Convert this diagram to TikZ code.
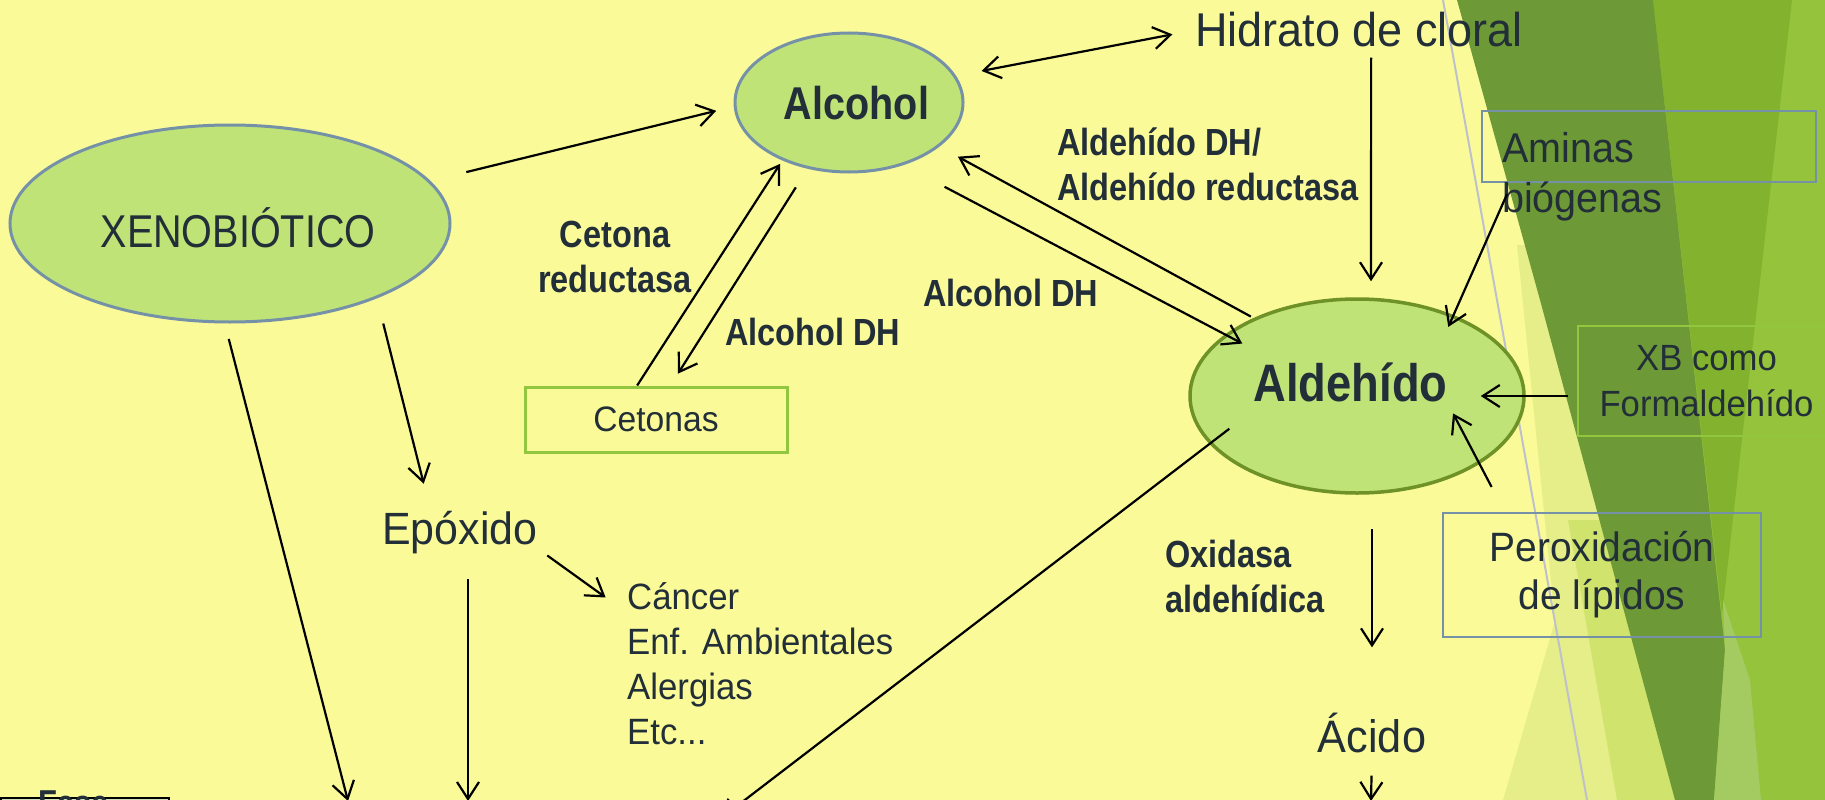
\documentclass[tikz,border=0pt]{standalone}
\usepackage{fontspec}
\setmainfont{Liberation Sans}[FakeStretch=0.95]
\newfontfamily\angosta{Liberation Sans}[FakeStretch=0.86]
\usetikzlibrary{arrows.meta,shapes.geometric}

\definecolor{fondo}{RGB}{250,251,152}
\definecolor{verdeelip}{RGB}{192,227,120}
\definecolor{grisazul}{RGB}{117,145,168}
\definecolor{oliva}{RGB}{110,145,40}
\definecolor{lima}{RGB}{145,198,62}
\definecolor{texto}{RGB}{34,46,56}
\definecolor{vOscuro}{RGB}{109,154,54}
\definecolor{vMedio}{RGB}{131,178,46}
\definecolor{vClaro}{RGB}{149,195,59}
\definecolor{vPalido}{RGB}{230,238,138}
\definecolor{vBanda}{RGB}{208,227,108}
\definecolor{vLuz}{RGB}{164,203,97}
\definecolor{linea}{RGB}{190,192,204}
\definecolor{fasefondo}{RGB}{205,224,184}

\tikzset{
  elipse/.style={ellipse, draw=grisazul, fill=verdeelip, line width=3pt, inner sep=0pt, text=texto},
  etiq/.style={inner sep=0pt, text=texto, align=left, font=\angosta\bfseries\fontsize{37.8}{45}\selectfont},
  rotulo/.style={inner sep=0pt, text=texto},
  caja/.style={draw=grisazul, line width=2.5pt, inner sep=0pt, text=texto, align=center},
  flecha/.style={->, line width=2.2pt}
}

\begin{document}
\begin{tikzpicture}[x=1pt,y=-1pt,>={Straight Barb[length=17pt,width=22pt]}]
\useasboundingbox (0,0) rectangle (1825,800);
\clip (0,0) rectangle (1825,800);
\fill[fondo] (0,0) rectangle (1825,800);

% fondo de la diapositiva
\fill[vClaro] (1640,0) rectangle (1825,800);
\fill[vPalido] (1517,245) -- (1550,245) -- (1700,800) -- (1503,800) -- (1555,621) -- cycle;
\fill[vBanda] (1568,520) -- (1630,520) -- (1700,800) -- (1617,800) -- cycle;
\fill[vMedio] (1653,0) -- (1792,0) -- (1722,615) -- cycle;
\fill[vOscuro] (1457,0) -- (1653,0) -- (1725,650) -- (1714,800) -- (1675,800) -- (1540,300) -- cycle;
\fill[vLuz] (1723,600) -- (1750,680) -- (1761,800) -- (1714,800) -- (1725,650) -- cycle;
\draw[linea, line width=2pt] (1443,0) -- (1587,800);

% nodos
\node[elipse, minimum width=440pt, minimum height=197pt, text height=47pt, text depth=0pt,
  font=\angosta\fontsize{46}{50}\selectfont] (xeno) at (230,223.5) {\hspace*{16pt}XENOBIÓTICO};
\node[elipse, minimum width=228pt, minimum height=139pt, text height=33pt, text depth=0pt,
  font=\angosta\bfseries\fontsize{46}{50}\selectfont] (alcohol) at (849,102.5) {\hspace*{15pt}Alcohol};
\node[elipse, draw=oliva, line width=3.5pt, minimum width=334pt, minimum height=194pt, text height=49pt, text depth=38pt,
  font=\angosta\bfseries\fontsize{52.7}{60}\selectfont] (aldehido) at (1357,396) {Aldehído\hspace*{13pt}};

\node[rotulo, anchor=base west, font=\fontsize{47.4}{54}\selectfont] (hidrato) at (1195,47) {Hidrato de cloral};
\node[caja, draw=lima, line width=3pt, minimum width=262pt, minimum height=65pt,
  font=\fontsize{35.4}{42}\selectfont] (cetonas) at (656,419.5) {Cetonas};
\node[rotulo, anchor=base west, text height=40pt, text depth=10pt, font=\fontsize{45.2}{52}\selectfont] (epoxido) at (382,544) {Epóxido};
\node[rotulo, anchor=base west, align=left, font=\fontsize{36.6}{45}\selectfont] (efectos) at (627,744)
  {Cáncer\\Enf. Ambientales\\Alergias\\Etc...};
\node[rotulo, anchor=base, font=\fontsize{45.5}{52}\selectfont] (acido) at (1372,752) {Ácido};

\node[caja, minimum width=334pt, minimum height=71pt] (aminasbox) at (1649,146.5) {};
\node[rotulo, anchor=base west, align=left, font=\fontsize{41.6}{50}\selectfont] (aminas) at (1502,212) {Aminas\\biógenas};
\node[caja, draw=lima, minimum width=257pt, minimum height=110pt, font=\fontsize{36.5}{46}\selectfont] (xbbox) at (1706.5,381) {XB como\\Formaldehído};
\node[caja, minimum width=318pt, minimum height=124pt, font=\fontsize{41}{48}\selectfont] (peroxbox) at (1602,575) {Peroxidación\\de lípidos};

\node[etiq, anchor=base west] (aldhdh) at (1057,200) {Aldehído DH/\\Aldehído reductasa};
\node[etiq, anchor=base, align=center] (cetred) at (615,292) {Cetona\\reductasa};
\node[etiq, anchor=base west] (alcdh1) at (725,345) {Alcohol DH};
\node[etiq, anchor=base west] (alcdh2) at (923,306) {Alcohol DH};
\node[etiq, anchor=base west] (oxidasa) at (1165,612) {Oxidasa\\aldehídica};

\node[draw=black, line width=2pt, fill=fasefondo, minimum width=168pt, minimum height=60pt, anchor=north west, inner sep=0pt] (fase) at (0,797) {};
\node[rotulo, anchor=north west, font=\angosta\bfseries\fontsize{36}{40}\selectfont] (fasetxt) at (38,791) {Fase};

\coordinate (bajoA) at (348,801);
\coordinate (bajoB) at (468,801);
\coordinate (bajoC) at (720,819);
\coordinate (bajoD) at (1371,801);

% flechas
\draw[flecha, shorten <=37pt, shorten >=18pt] (xeno.12.6) -- (alcohol.182);
\draw[flecha, <->, shorten <=26pt, shorten >=23pt] (alcohol.14.3) -- (hidrato.west);
\draw[flecha, shorten <=10pt, shorten >=16pt] ([xshift=12pt]hidrato.south) -- ([xshift=14pt]aldehido.north);
\draw[flecha, shorten <=3pt, shorten >=21pt] (aldehido.143.8) -- (alcohol.-26.9);
\draw[flecha, shorten <=46.5pt, shorten >=-19.5pt] (alcohol.-49.4) -- (aldehido.155.1);
\draw[flecha, shorten >=4pt] (cetonas.119) -- (alcohol.221);
\draw[flecha, shorten <=22pt, shorten >=14pt] (alcohol.238.2) -- (cetonas.67.6);
\draw[flecha, shorten <=26pt, shorten >=20.7pt] (xeno.-27.8) -- ([xshift=-31pt]epoxido.north);
\draw[flecha, shorten <=16pt] (xeno.-93.5) -- (bajoA);
\draw[flecha, shorten <=25pt] (epoxido.south -| bajoB) -- (bajoB);
\draw[flecha, shorten <=11.9pt, shorten >=26.3pt] ([yshift=-19.5pt]epoxido.east) -- ([yshift=-31pt]efectos.north west);
\draw[flecha, shorten <=-25pt] (aldehido.198) -- (bajoC);
\draw[flecha, shorten <=12pt, shorten >=-13pt] (aminasbox.-165.5) -- (aldehido.40);
\draw[flecha, shorten <=9pt, shorten >=-45pt] (xbbox.west |- aldehido.east) -- (aldehido.east);
\draw[flecha, shorten <=28pt, shorten >=-57pt] (peroxbox.147) -- (aldehido.-29.5);
\draw[flecha, shorten <=34pt, shorten >=65pt] (aldehido.south -| acido.north) -- (acido.north);
\draw[flecha, shorten <=23pt] (acido.south) -- (bajoD);
\end{tikzpicture}
\end{document}
